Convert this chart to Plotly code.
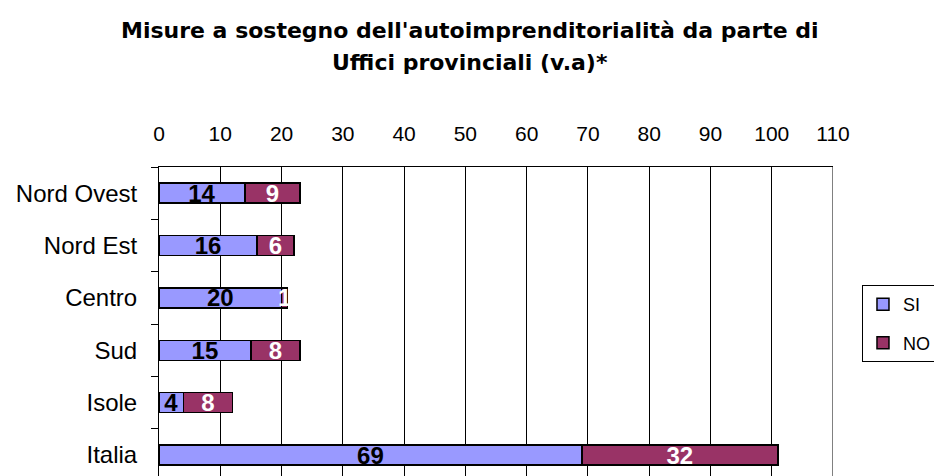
import plotly.graph_objects as go

regions = ["Nord Ovest", "Nord Est", "Centro", "Sud", "Isole", "Italia"]
si_values = [14, 16, 20, 15, 4, 69]
no_values = [9, 6, 1, 8, 8, 32]
x_ticks = [0, 10, 20, 30, 40, 50, 60, 70, 80, 90, 100, 110]

FONT = "Liberation Sans, Arial, sans-serif"
TITLE_FONT = "DejaVu Sans, Arial, sans-serif"

fig = go.Figure()

fig.add_trace(
    go.Bar(
        y=regions,
        x=si_values,
        orientation="h",
        name="SI",
        legendgroup="si",
        marker=dict(color="#9999FF", line=dict(color="black", width=1.5)),
        text=si_values,
        textposition="inside",
        insidetextanchor="middle",
        textangle=0,
        constraintext="none",
        textfont=dict(family=FONT, size=24, color="black", weight="bold"),
    )
)
fig.add_trace(
    go.Bar(
        y=regions,
        x=no_values,
        orientation="h",
        name="NO",
        legendgroup="no",
        marker=dict(color="#993366", line=dict(color="black", width=1.5)),
        text=no_values,
        textposition="inside",
        insidetextanchor="middle",
        textangle=0,
        constraintext="none",
        textfont=dict(family=FONT, size=24, color="white", weight="bold"),
    )
)

# two-line title, placed by hand to get the wide line spacing
fig.add_annotation(
    text="<b>Misure a sostegno dell'autoimprenditorialità da parte di</b>",
    xref="paper", yref="paper", x=0.462, y=1.443,
    xanchor="center", yanchor="middle", showarrow=False,
    font=dict(family=TITLE_FONT, size=22, color="black"),
)
fig.add_annotation(
    text="<b>Uffici provinciali (v.a)*</b>",
    xref="paper", yref="paper", x=0.462, y=1.337,
    xanchor="center", yanchor="middle", showarrow=False,
    font=dict(family=TITLE_FONT, size=22, color="black"),
)

# grey right border of the plot area
fig.add_shape(
    type="line", xref="x", yref="paper", x0=110, x1=110, y0=0, y1=1,
    line=dict(color="#808080", width=2),
)

# the page body has an 8px margin, so margins are trimmed by 8px
fig.update_layout(
    width=942,
    height=476,
    barmode="stack",
    bargap=0.62,
    plot_bgcolor="white",
    paper_bgcolor="white",
    font=dict(family=FONT, color="black"),
    margin=dict(l=151, r=117, t=159, b=8, autoexpand=False),
    legend=dict(
        x=1.043, y=0.618, xanchor="left", yanchor="top",
        bordercolor="black", borderwidth=1,
        font=dict(family=FONT, size=18, color="black"),
        traceorder="grouped",
        tracegroupgap=12,
        itemwidth=30,
    ),
    xaxis=dict(
        side="top",
        range=[0, 110],
        tickvals=x_ticks,
        tickfont=dict(size=21),
        showgrid=True,
        gridcolor="black",
        gridwidth=1,
        zeroline=False,
        showline=True,
        linecolor="black",
        ticks="inside",
        ticklen=5,
        tickcolor="black",
        ticklabelstandoff=17,
    ),
    yaxis=dict(
        categoryorder="array",
        categoryarray=regions,
        range=[5.4, -0.5],
        tickfont=dict(size=24),
        showline=True,
        linecolor="black",
        linewidth=1,
        ticks="outside",
        tickson="boundaries",
        ticklen=7,
        tickcolor="black",
        showgrid=False,
        ticklabelstandoff=16,
    ),
)

fig.write_html("out.html")
